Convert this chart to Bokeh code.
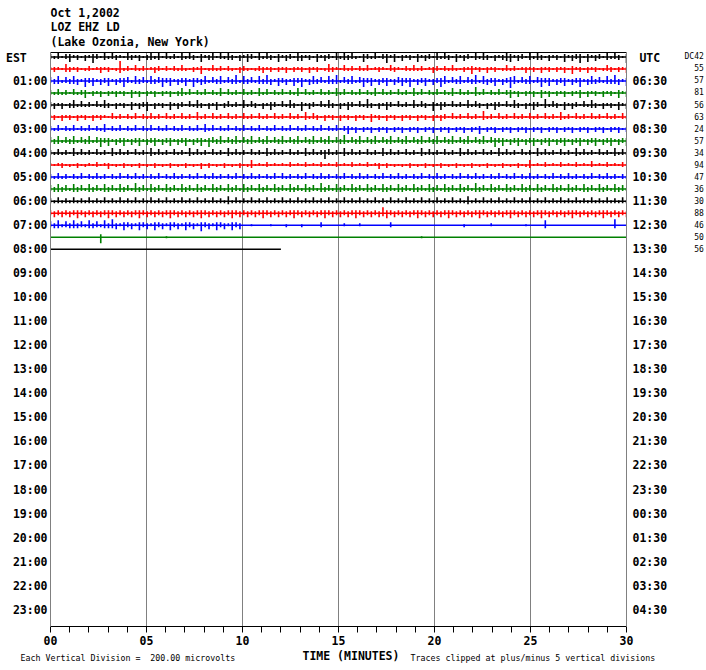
from bokeh.plotting import figure
from bokeh.layouts import column
from bokeh.models import Range1d, LinearAxis, FixedTicker, Label, ColumnDataSource
from bokeh.embed import file_html
from bokeh.resources import INLINE
import numpy as np

# ---------------- data ----------------
title_lines = ["Oct 1,2002", "LOZ EHZ LD", "(Lake Ozonia, New York)"]
footer_left = "Each Vertical Division =\u00a0 200.00 microvolts"
footer_mid = "TIME (MINUTES)"
footer_right = "Traces clipped at plus/minus 5 vertical divisions"

est_rows = [2, 4, 6, 8, 10, 12, 14, 16, 18, 20, 22, 24, 26, 28, 30, 32, 34, 36, 38, 40, 42, 44, 46]
est_labels = ["01:00", "02:00", "03:00", "04:00", "05:00", "06:00", "07:00", "08:00",
              "09:00", "10:00", "11:00", "12:00", "13:00", "14:00", "15:00", "16:00",
              "17:00", "18:00", "19:00", "20:00", "21:00", "22:00", "23:00"]
utc_labels = ["06:30", "07:30", "08:30", "09:30", "10:30", "11:30", "12:30", "13:30",
              "14:30", "15:30", "16:30", "17:30", "18:30", "19:30", "20:30", "21:30",
              "22:30", "23:30", "00:30", "01:30", "02:30", "03:30", "04:30"]

dc_values = [42, 55, 57, 81, 56, 63, 24, 57, 34, 94, 47, 36, 30, 88, 46, 50, 56]

trace_colors = ["#000000", "#ff0000", "#0000ff", "#008000",
                "#000000", "#ff0000", "#0000ff", "#008000",
                "#000000", "#ff0000", "#0000ff", "#008000",
                "#000000", "#ff0000", "#0000ff", "#008000",
                "#000000"]
trace_end_minutes = [30, 30, 30, 30, 30, 30, 30, 30, 30, 30, 30, 30, 30, 30, 30, 30, 12]

# envelope of each 0.2-minute window around the trace baseline, in pixels
trace_amps = [
    "324135231426315243215324136251" "423152431523614253142531624315" "243174231524316253421532413625"
    "142315243162431524316253142375" "243162531423152436152431524316",
    "232153231231242312823142312431" "313242132512423132143212342313" "241323142312532142313241232143"
    "213242312431324213252314231242" "312423142313241523142312431324",
    "435243542635243524364253425346" "352435263452435243625342536425" "342536245342536243524635243524"
    "453624352436524352436254352437" "524352463524352436245342536425",
    "324231423513241324231524132413" "241352413241325142314231524132" "413251423142315241324132514231"
    "423152413241325142316241324135" "241324152413241325142314231524",
    "342413524231425314231524361423" "152431425314251342315243142531" "425316243142531425314263142531"
    "423152431625314231524314253142" "531425316243152431425314231524",
    "231423142314232142313241324231" "423142315231423142314231423142" "314231524314231423142315231423"
    "142314231424314231423162314231" "423142314231523142314231423142",
    "324132413241325132413241324132" "413241324152413241324132413241" "324132413241324135241324132413"
    "241324132413241324132513241324" "132413241324132413241324132413",
    "435243524352463524352435243524" "352435243526435243524352435243" "524352435243524362435243524352"
    "435243524352435243524352463524" "352435243524352435243524352435",
    "324231524231423152423142315242" "314231524231423152423142315242" "314231524236423152423142315242"
    "314231524231423152423142315242" "314231524231423152423142315242",
    "212312131221312412131213121312" "131213121413121312131251213121" "213121312131213121312131241312"
    "121312131213121312131213121312" "131251213121312131214121312131",
    "324231324132423132413242313241" "324231324132423132413242313241" "423132413242313241324231324132"
    "423132413242313241324231324132" "413242313241324231324132423132",
    "435342534253425342534263425342" "534253425342534253425342534253" "425342534263425342534253425342"
    "534253425342534253426342534253" "425342534253425342534253425342",
    "324232423242324232423242324232" "423242324232423252423242324232" "423242324232423242324232423242"
    "324232423242324232523242324232" "423242324232423242324232423242",
    "343434353434343534343435343434" "353434343534343435343434353434" "343534343435343434353434346534"
    "343435343434353434343534343435" "343434353434343534343435343434",
    "435243534253425364253425342534" "253425342634253425340010000100" "020002000030000020002000000030"
    "000000000000000002000000200000" "000100005000000000000000006000",
    "000000000000060000000000000000" "100000000000000000000000000000" "000000000000000000000000000000"
    "000000100000000000000000000000" "000000000000000000000000000000",
    "00",
]

minute_ticks = list(range(31))
minute_labels = {0: "00", 5: "05", 10: "10", 15: "15", 20: "20", 25: "25", 30: "30"}
grid_minutes = [5, 10, 15, 20, 25]

MONO = "DejaVu Sans Mono"
PX = 12.02          # pixels per trace row
W = 706
HEAD_H, MAIN_H, FOOT_H = 50, 598, 22
NB = "\u00a0"


def free_frame(fig):
    if "frame_align" in fig.properties():
        fig.frame_align = False


# ---------------- header ----------------
head = figure(width=W, height=HEAD_H, output_backend="svg", toolbar_location=None,
              x_range=Range1d(0, W), y_range=Range1d(HEAD_H, 0),
              x_axis_location=None, y_axis_location=None,
              min_border_left=0, min_border_right=0, min_border_top=0, min_border_bottom=0)
head.grid.visible = False
head.outline_line_color = None
free_frame(head)
for s, y in zip(title_lines, [12, 26, 41]):
    head.add_layout(Label(x=50, y=y, text=s, text_font=MONO, text_font_style="bold",
                          text_font_size="11.5px", text_color="black",
                          text_baseline="middle", text_align="left"))

# ---------------- main helicorder ----------------
p = figure(width=W, height=MAIN_H, output_backend="svg", toolbar_location=None,
           x_range=Range1d(0, 30), y_range=Range1d(47.4, -0.37),
           min_border_left=50, min_border_right=80, min_border_top=2, min_border_bottom=22)
p.outline_line_color = None
p.ygrid.visible = False
p.xgrid.ticker = FixedTicker(ticks=grid_minutes)
p.xgrid.grid_line_color = "#808080"
free_frame(p)

base_x, base_y = [], []
seg = dict(x0=[], y0=[], x1=[], y1=[], color=[])
for row, (amps, end, col) in enumerate(zip(trace_amps, trace_end_minutes, trace_colors)):
    a = np.array([int(c) for c in amps], dtype=float)
    n = len(a)
    t = np.linspace(0, end, n)
    base_x.append([0, end])
    base_y.append([row, row])
    for i in range(n):
        if a[i] == 0:
            continue
        big, small = a[i], np.ceil(a[i] / 2)
        up, down = (big, small) if i % 2 == 0 else (small, big)
        seg["x0"].append(t[i]); seg["x1"].append(t[i])
        seg["y0"].append(row - up / PX); seg["y1"].append(row + down / PX)
        seg["color"].append(col)

p.multi_line(xs=base_x, ys=base_y, line_color=trace_colors, line_width=1.5)
p.segment(x0="x0", y0="y0", x1="x1", y1="y1", line_color="color", line_width=1.6,
          source=ColumnDataSource(seg))

xa = p.xaxis[0]
xa.ticker = FixedTicker(ticks=minute_ticks, minor_ticks=[])
xa.major_label_overrides = {m: minute_labels.get(m, "") for m in minute_ticks}
xa.major_tick_in = 0
xa.major_tick_out = 6
xa.major_tick_line_color = "black"
xa.axis_line_color = "black"
xa.major_label_text_font = MONO
xa.major_label_text_font_style = "bold"
xa.major_label_text_font_size = "11.5px"
xa.major_label_text_color = "black"
xa.major_label_standoff = 3

row_ticks = [0] + est_rows
ya = p.yaxis[0]
ya.ticker = FixedTicker(ticks=row_ticks, minor_ticks=[])
ya.major_label_overrides = dict(zip(row_ticks, ["EST" + NB * 3] + est_labels))
ya.major_tick_line_color = None
ya.major_tick_in = 0
ya.major_tick_out = 0
ya.axis_line_color = "#808080"
ya.major_label_text_font = MONO
ya.major_label_text_font_style = "bold"
ya.major_label_text_font_size = "11.5px"
ya.major_label_text_color = "black"
ya.major_label_standoff = 3

ra = LinearAxis(ticker=FixedTicker(ticks=row_ticks, minor_ticks=[]),
                major_label_overrides=dict(zip(row_ticks, [NB + "UTC"] + utc_labels)),
                major_tick_line_color=None, major_tick_in=0, major_tick_out=0,
                axis_line_color="#808080", major_label_text_font=MONO,
                major_label_text_font_style="bold", major_label_text_font_size="11.5px",
                major_label_text_color="black", major_label_standoff=6)
p.add_layout(ra, "right")

dc_rows = list(range(len(dc_values)))
dc_text = ["DC" + str(dc_values[0])] + [NB * 2 + str(v) for v in dc_values[1:]]
dca = LinearAxis(ticker=FixedTicker(ticks=dc_rows, minor_ticks=[]),
                 major_label_overrides=dict(zip(dc_rows, dc_text)),
                 major_tick_line_color=None, major_tick_in=0, major_tick_out=0,
                 axis_line_color=None, major_label_text_font=MONO,
                 major_label_text_font_size="8px", major_label_text_color="black",
                 major_label_standoff=14)
p.add_layout(dca, "right")

ta = LinearAxis(ticker=FixedTicker(ticks=[], minor_ticks=[]),
                major_tick_line_color=None, major_tick_in=0, major_tick_out=0,
                axis_line_color="black", major_label_text_font_size="0px",
                major_label_standoff=0)
p.add_layout(ta, "above")

# ---------------- footer ----------------
foot = figure(width=W, height=FOOT_H, output_backend="svg", toolbar_location=None,
              x_range=Range1d(0, W), y_range=Range1d(FOOT_H, 0),
              x_axis_location=None, y_axis_location=None,
              min_border_left=0, min_border_right=0, min_border_top=0, min_border_bottom=0)
foot.grid.visible = False
foot.outline_line_color = None
free_frame(foot)
foot.add_layout(Label(x=20, y=9, text=footer_left, text_font=MONO, text_font_size="8.3px",
                      text_color="black", text_baseline="middle", text_align="left"))
foot.add_layout(Label(x=302, y=7, text=footer_mid, text_font=MONO, text_font_style="bold",
                      text_font_size="11.5px", text_color="black",
                      text_baseline="middle", text_align="left"))
foot.add_layout(Label(x=410, y=9, text=footer_right, text_font=MONO, text_font_size="8.3px",
                      text_color="black", text_baseline="middle", text_align="left"))

layout = column(head, p, foot, spacing=0)
open("out.html", "w").write(file_html(layout, INLINE))
